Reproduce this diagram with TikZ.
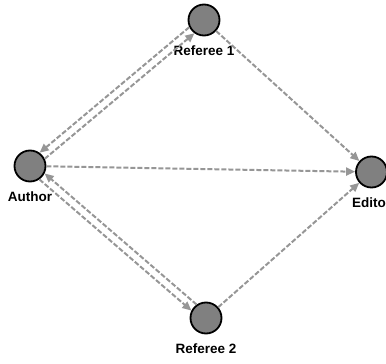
\documentclass[tikz,border=0pt]{standalone}
\usepackage{fontspec}
\setmainfont{Liberation Sans}
\usetikzlibrary{arrows.meta}
\definecolor{nodegray}{RGB}{128,128,128}
\definecolor{linegray}{RGB}{150,150,150}
\tikzset{
  agent/.style={circle,draw=black,fill=nodegray,line width=1.8pt,minimum size=31pt,inner sep=0pt,
    label={[font=\fontsize{13.5}{14}\selectfont\bfseries,yshift=-6pt]below:#1}},
  msg/.style={draw=linegray,line width=2pt,dash pattern=on 5pt off 2pt,
    -{Triangle[length=9pt,width=8pt,fill=linegray]}}
}
\begin{document}
\begin{tikzpicture}[x=1pt,y=-1pt]
  \useasboundingbox[fill=white] (0,0) rectangle (386,364);
  \node[agent=Referee 1] (ref1) at (204,20) {};
  \node[agent=Author] (author) at (30,166) {};
  \node[agent=Editor] (editor) at (371.5,172) {};
  \node[agent=Referee 2] (ref2) at (206,318) {};
  \draw[msg] (author) -- (editor);
  \draw[msg] (ref1) -- (editor);
  \draw[msg] (ref2) -- (editor);
  \draw[msg] (author.26) -- (ref1.234);
  \draw[msg] (ref1.206) -- (author.54);
  \draw[msg] (author.-55) -- (ref2.153);
  \draw[msg] (ref2.125) -- (author.-27);
\end{tikzpicture}
\end{document}
